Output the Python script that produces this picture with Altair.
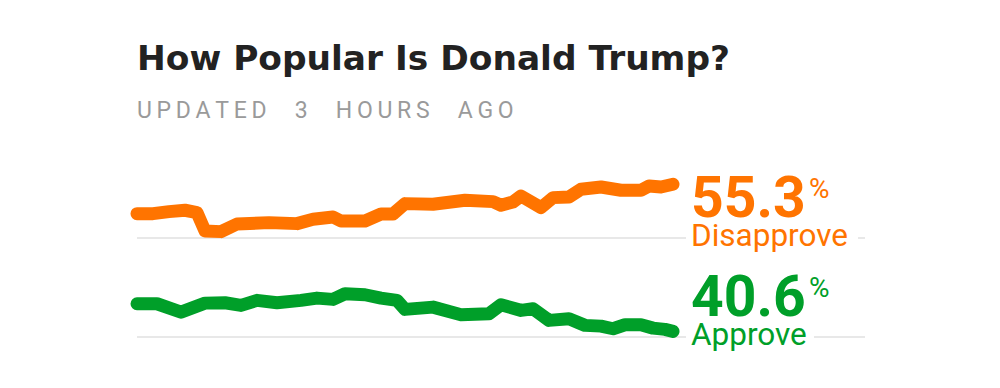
import altair as alt
import pandas as pd

# ---- data ----
dis_days = [0, 4, 8, 12, 15, 17, 21, 25, 33, 40, 44, 49, 51, 57, 61, 64, 67, 74, 82, 89,
            91, 94, 96, 101, 104, 108, 111, 116, 121, 126, 128, 131, 134]
dis_vals = [52.95, 52.95, 53.11, 53.22, 53.03, 51.56, 51.51, 52.12, 52.23, 52.15, 52.50,
            52.68, 52.36, 52.36, 52.92, 52.92, 53.75, 53.70, 54.02, 53.91, 53.62, 53.88,
            54.36, 53.43, 54.23, 54.28, 54.90, 55.08, 54.82, 54.82, 55.16, 55.08, 55.30]

app_days = [0, 5, 11, 17, 22, 26, 30, 35, 41, 45, 49, 52, 57, 61, 65, 67, 74, 81, 88, 91,
            96, 99, 103, 108, 112, 116, 119, 122, 126, 129, 132, 134]
app_vals = [42.81, 42.81, 42.14, 42.86, 42.89, 42.68, 43.08, 42.89, 43.08, 43.26, 43.16,
            43.61, 43.53, 43.26, 43.08, 42.36, 42.54, 41.93, 42.01, 42.73, 42.28, 42.41,
            41.48, 41.61, 41.08, 41.02, 40.81, 41.13, 41.13, 40.86, 40.76, 40.60]

labels = ["Disapprove", "Approve"]
ORANGE = "#FF7400"
GREEN = "#009F29"

TITLE = "How Popular Is Donald Trump?"
THIN = "\u2009"
GAP = "\u2003\u2009"
SUB = GAP.join(THIN.join(list(w)) for w in ["UPDATED", "3", "HOURS", "AGO"])

W = 728
X_DOMAIN = [0, 182]


def panel(days, vals, color, word, height, ydomain, mask_w):
    df = pd.DataFrame({"day": days, "value": vals})
    lab = pd.DataFrame({"num": [f"{vals[-1]:.1f}"], "word": [word], "pct": ["%"]})
    x = alt.X("day:Q", scale=alt.Scale(domain=X_DOMAIN, nice=False, zero=False), axis=None)
    y = alt.Y("value:Q", scale=alt.Scale(domain=ydomain, nice=False, zero=False), axis=None)

    rule = alt.Chart(lab).mark_rule(color="#e8e8e8", strokeWidth=2).encode(
        x=alt.value(0), x2=alt.value(W), y=alt.value(height))
    line = alt.Chart(df).mark_line(
        color=color, strokeWidth=13, strokeCap="round", strokeJoin="round").encode(x=x, y=y)
    mask = alt.Chart(lab).mark_rect(color="white").encode(
        x=alt.value(549), x2=alt.value(549 + mask_w),
        y=alt.value(height - 4), y2=alt.value(height + 4))
    num = alt.Chart(lab).mark_text(
        align="left", baseline="alphabetic", font="Roboto", fontSize=57,
        fontWeight="bold", color=color).encode(
        text="num:N", x=alt.value(554), y=alt.value(height - 21))
    pct = alt.Chart(lab).mark_text(
        align="left", baseline="top", font="Roboto", fontSize=28, color=color).encode(
        text="pct:N", x=alt.value(672), y=alt.value(height - 62))
    wd = alt.Chart(lab).mark_text(
        align="left", baseline="alphabetic", font="Roboto", fontSize=31.5, color=color).encode(
        text="word:N", x=alt.value(554), y=alt.value(height + 8))
    return alt.layer(rule, line, mask, num, pct, wd).properties(width=W, height=height)


top = panel(dis_days, dis_vals, ORANGE, labels[0], 77, [51.0, 57.16], 172)
bottom = panel(app_days, app_vals, GREEN, labels[1], 88, [40.15, 47.19], 128)

chart = alt.vconcat(top, bottom, spacing=11, bounds="flush").properties(
    title=alt.TitleParams(
        text=TITLE, subtitle=SUB, anchor="start", frame="group",
        font="DejaVu Sans", fontSize=34.4, fontWeight="bold", color="#222222",
        subtitleFont="Roboto", subtitleFontSize=23,
        subtitleColor="#9a9a9a", subtitlePadding=23, offset=37),
    padding={"left": 122, "top": 33, "right": 0, "bottom": 0},
).configure_view(stroke=None)

chart.save("out.html", embed_options={"renderer": "svg", "actions": False})
